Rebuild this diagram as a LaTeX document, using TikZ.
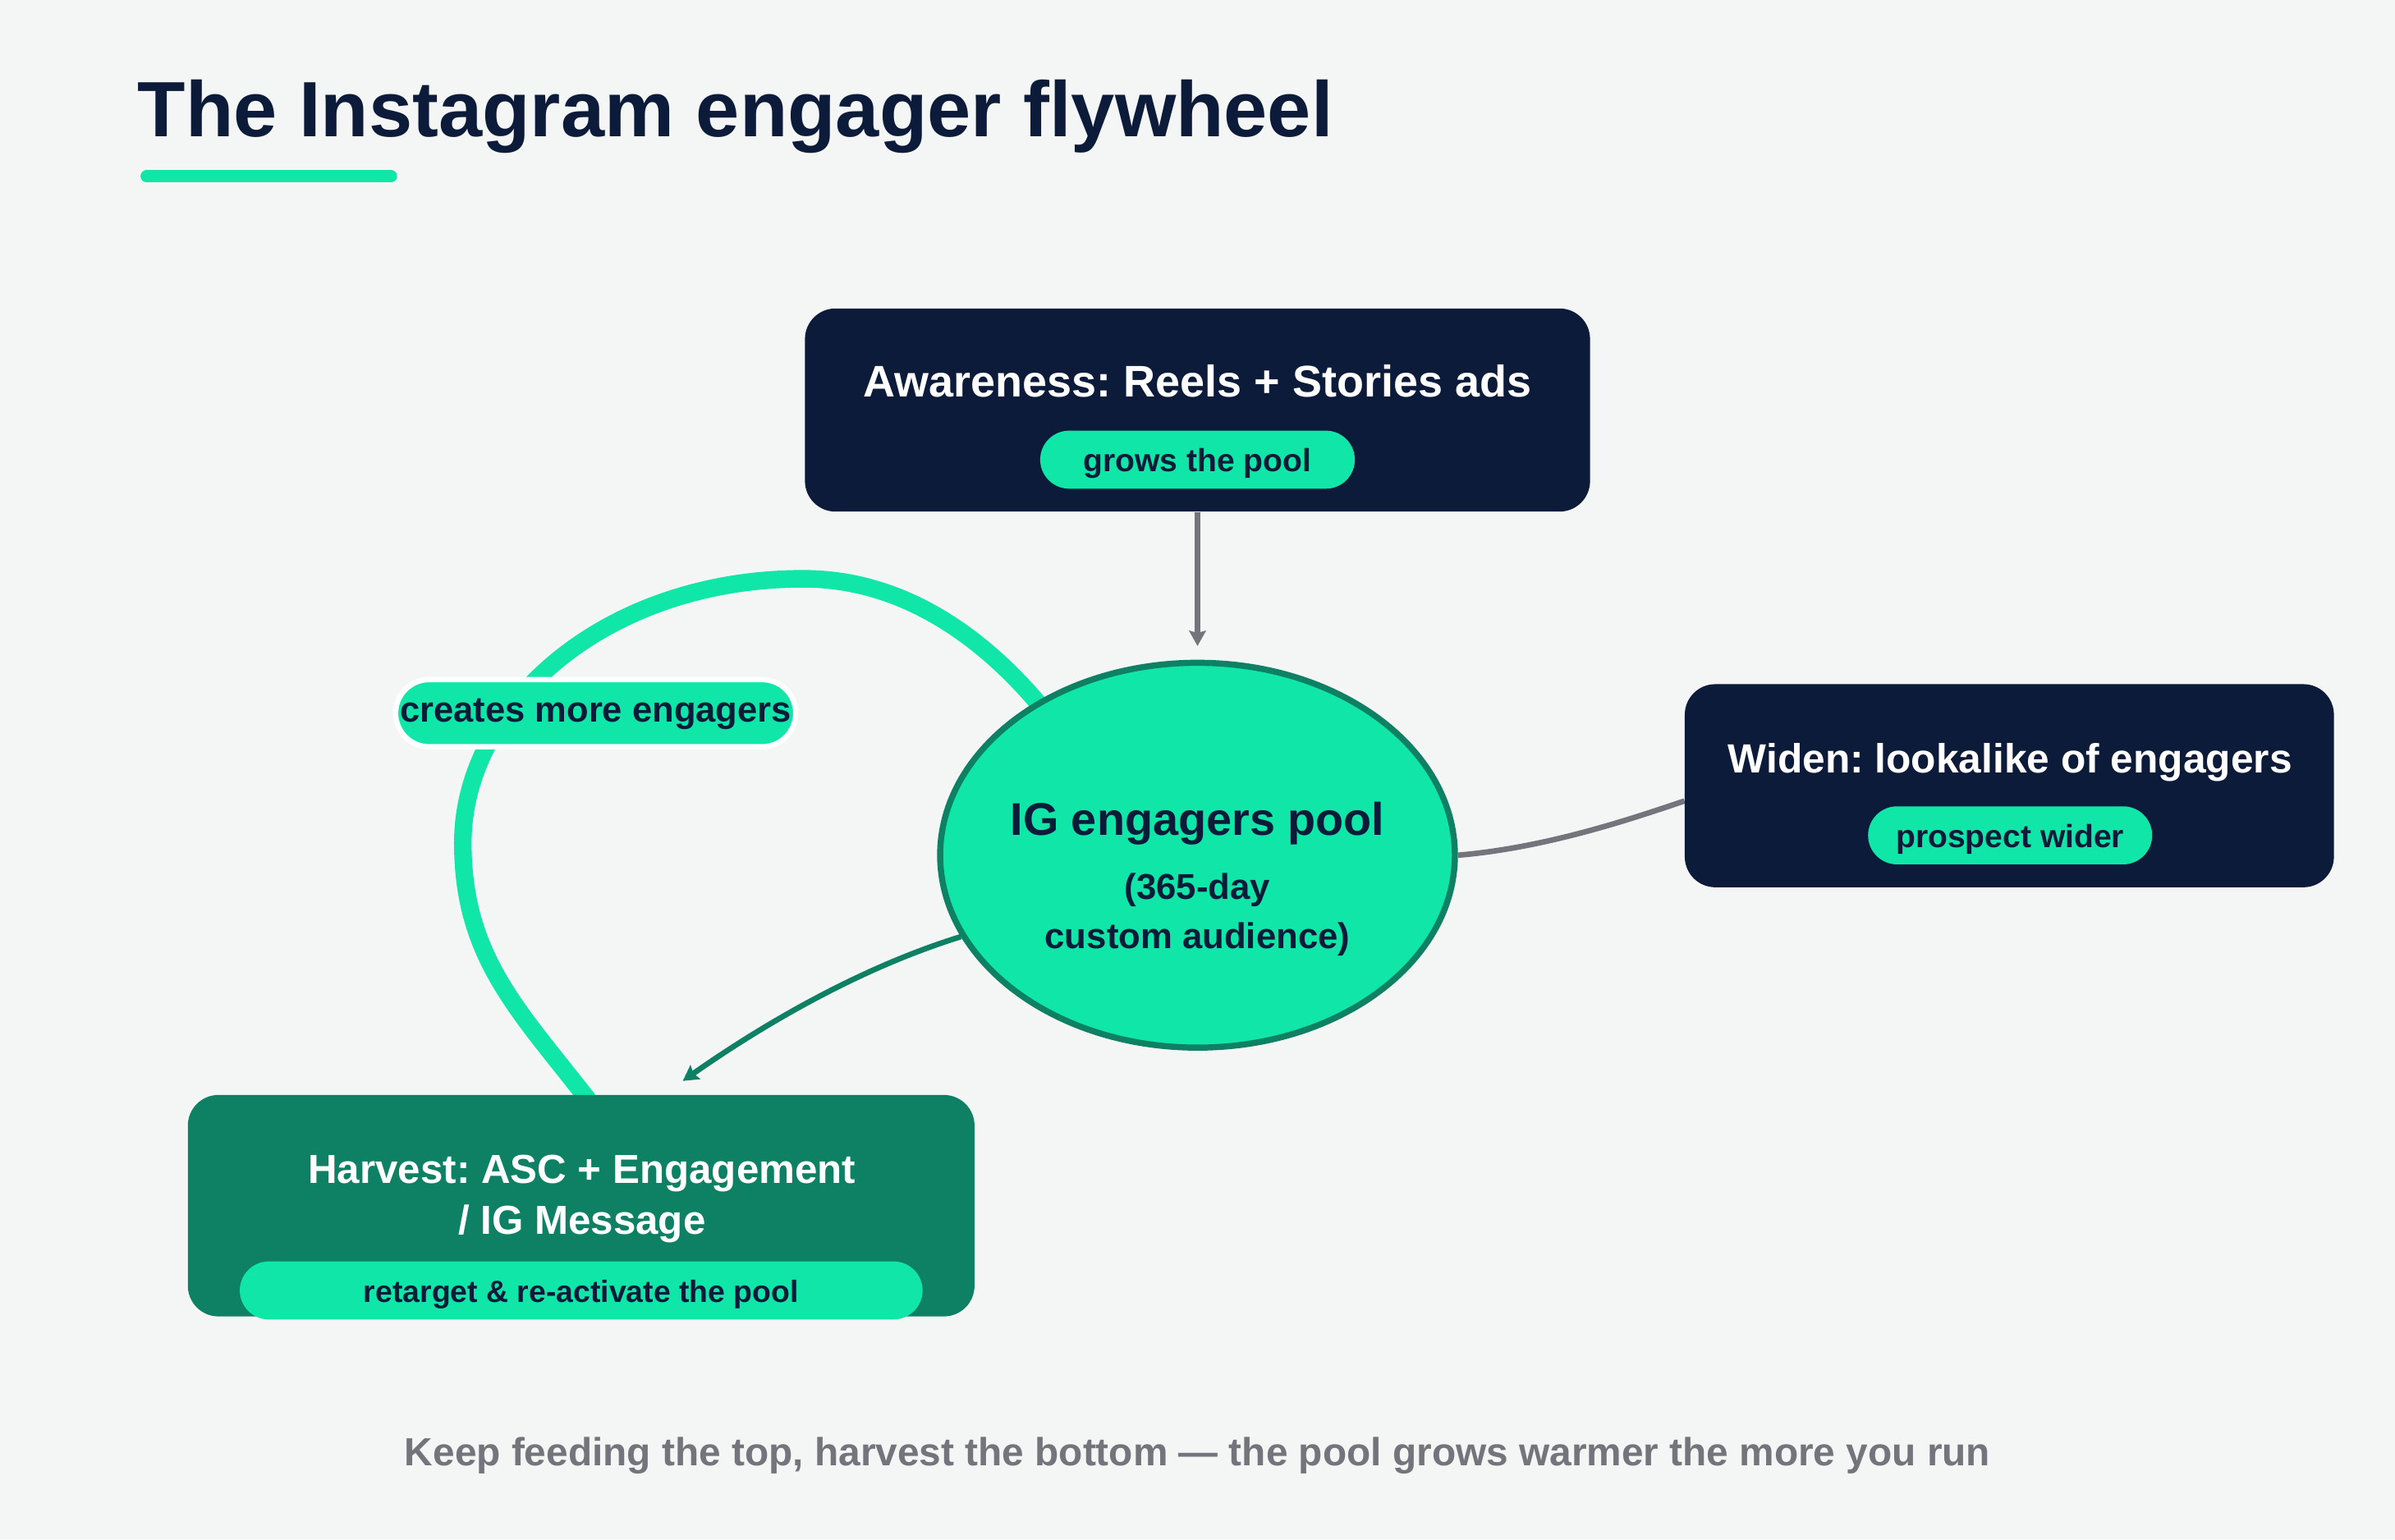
\documentclass[tikz,border=0pt]{standalone}
\usepackage{fontspec}
\setmainfont{Liberation Sans}
\usetikzlibrary{shapes.geometric,arrows.meta}
\frenchspacing

\definecolor{bgcol}{HTML}{F4F6F5}
\definecolor{navy}{HTML}{0D1B3A}
\definecolor{mint}{HTML}{10E6A8}
\definecolor{pine}{HTML}{0E8064}
\definecolor{slate}{HTML}{74757C}

\pgfdeclarelayer{paper}
\pgfdeclarelayer{back}
\pgfsetlayers{paper,back,main}

\begin{document}
\begin{tikzpicture}[x=1pt,y=-1pt,
    card/.style={rectangle, rounded corners=20pt, inner sep=0pt, fill=navy},
    cardtitle/.style={anchor=base, inner sep=0pt, text=white},
    pill/.style={rectangle, rounded corners=19pt, fill=mint, text=navy, inner sep=0pt,
        minimum height=38pt, text height=16pt, text depth=0pt, font=\bfseries\fontsize{21}{24}\selectfont},
    pooltext/.style={anchor=base, inner sep=0pt, text=navy, align=center},
    link/.style={line width=3.6pt, -{Stealth[length=10pt,width=11pt,inset=1.5pt]}}]

    \begin{pgfonlayer}{paper}
        \fill[bgcol] (0,0) rectangle (1568,1008);
    \end{pgfonlayer}

    % heading
    \node[anchor=base west, inner sep=0pt, text=navy, font=\bfseries\fontsize{51.4}{60}\selectfont] (title) at (90,89.6) {The Instagram engager flywheel};
    \draw[mint, line width=8pt, line cap=round] (96,115.5) -- (256,115.5);

    % cards
    \node[card, minimum width=514pt, minimum height=133pt] (aware) at (784,268.5) {};
    \node[cardtitle, font=\bfseries\fontsize{29}{34}\selectfont] (awaretitle) at (784,260) {Awareness: Reels + Stories ads};
    \node[pill, minimum width=206pt] (awarepill) at (784,301) {grows the pool};

    \node[card, minimum width=425pt, minimum height=133pt] (widen) at (1315.5,514.5) {};
    \node[cardtitle, font=\bfseries\fontsize{26.7}{32}\selectfont] (widentitle) at (1316,506) {Widen: lookalike of engagers};
    \node[pill, minimum width=186pt] (widenpill) at (1316,547) {prospect wider};

    \node[card, fill=pine, minimum width=515pt, minimum height=145pt] (harvest) at (380.5,789.5) {};
    \node[cardtitle, align=center, font=\bfseries\fontsize{26.5}{33}\selectfont] (harvesttitle) at (381,808) {Harvest: ASC + Engagement\\/ IG Message};
    \node[pill, minimum width=447pt, font=\bfseries\fontsize{20.1}{24}\selectfont] (harvestpill) at (380.5,845) {retarget \& re-activate the pool};

    % pool
    \node[ellipse, draw=pine, line width=4pt, fill=mint, minimum width=337pt, minimum height=252pt, inner sep=0pt] (pool) at (784,560) {};
    \node[pooltext, font=\bfseries\fontsize{30}{36}\selectfont] (pooltitle) at (784,547) {IG engagers pool};
    \node[pooltext, font=\bfseries\fontsize{23.5}{32}\selectfont] (poolsub) at (784,621) {(365-day\\custom audience)};

    % connectors
    \begin{pgfonlayer}{back}
        \draw[link, slate, shorten >=9pt] (aware.south) -- (pool.north);
        \draw[slate, line width=3.6pt] (pool.east) .. controls +(60,-5) and +(-30,10) .. ([yshift=-10pt]widen.west);
        \draw[link, pine] (pool.199) .. controls (572,631) and (511,663) .. ([xshift=66.5pt,yshift=9pt]harvest.north);
        \draw[mint, line width=11.5pt] ([xshift=5pt,yshift=-4pt]harvest.north) .. controls (340,662) and (303,627) .. (303,552)
            .. controls (303,462) and (396,379) .. (526,379)
            .. controls (596,379) and (648,423) .. ([shift={(-6pt,-6pt)}]pool.133);
    \end{pgfonlayer}
    \node[pill, draw=white, line width=3.5pt, rounded corners=22pt, minimum width=262pt, minimum height=44pt, text height=11pt, font=\bfseries\fontsize{23.4}{28}\selectfont] (loopnote) at (390,467) {creates more engagers};

    % footer
    \node[anchor=base, inner sep=0pt, text=slate, font=\bfseries\fontsize{25.7}{30}\selectfont] (footer) at (784,960) {Keep feeding the top, harvest the bottom — the pool grows warmer the more you run};
\end{tikzpicture}
\end{document}
